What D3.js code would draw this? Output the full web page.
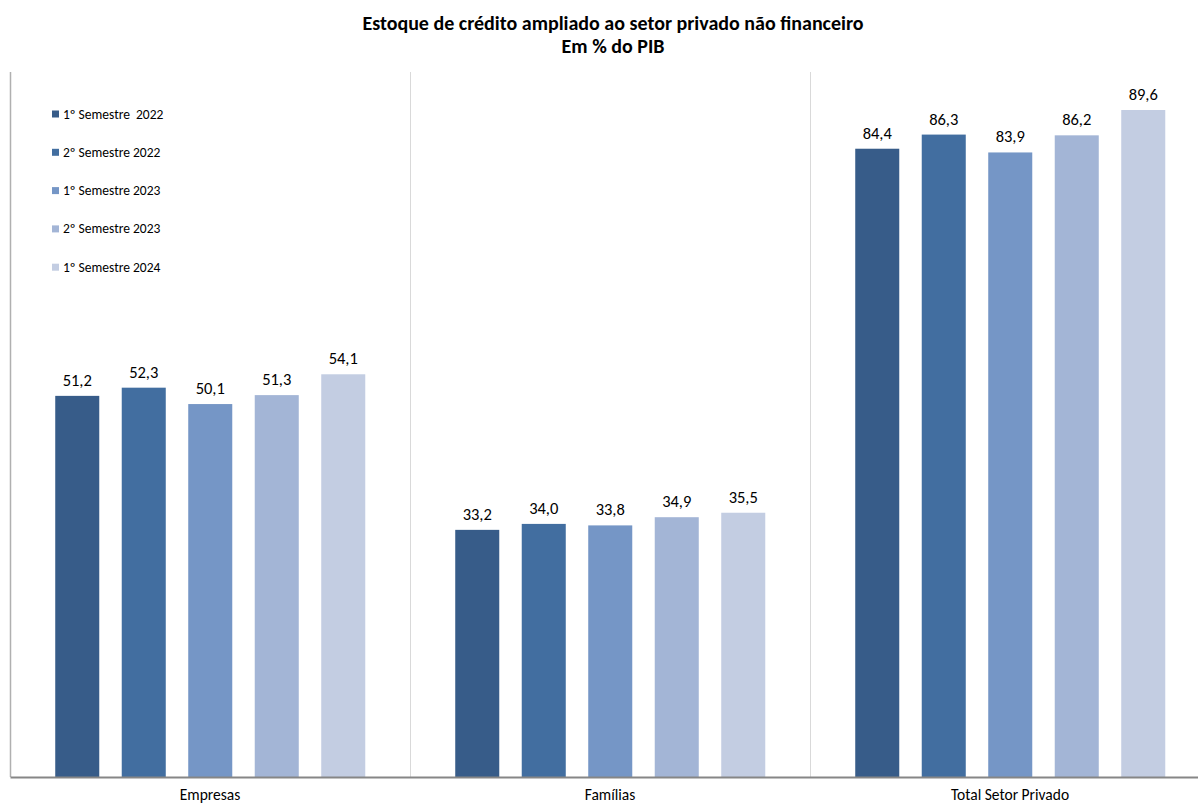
<!DOCTYPE html>
<html><head><meta charset="utf-8">
<script src="https://cdn.jsdelivr.net/npm/d3@7"></script>
<style>body{margin:0;background:#fff;} svg{display:block;font-family:Carlito, Lato, "Open Sans", sans-serif;}</style>
</head><body><svg id="c" width="1198" height="804"></svg>
<script>
const categories = ["Empresas", "Famílias", "Total Setor Privado"];
const seriesNames = ["1º Semestre  2022", "2º Semestre 2022", "1º Semestre 2023", "2º Semestre 2023", "1º Semestre 2024"];
const s1_2022 = [51.2, 33.2, 84.4];
const s2_2022 = [52.3, 34.0, 86.3];
const s1_2023 = [50.1, 33.8, 83.9];
const s2_2023 = [51.3, 34.9, 86.2];
const s1_2024 = [54.1, 35.5, 89.6];
const seriesValues = [s1_2022, s2_2022, s1_2023, s2_2023, s1_2024];
const colors = ["#375c89", "#426ea0", "#7596c6", "#a3b5d6", "#c3cde2"];

const svg = d3.select("#c");
const x0 = d3.scaleBand().domain(categories).range([10, 1210]).padding(0);
const x1 = d3.scaleBand().domain(d3.range(seriesNames.length)).range([34, 366.5]).paddingInner(0.338).paddingOuter(0.169);
const y = d3.scaleLinear().domain([0, 100]).range([777, 32.6]);

// title
svg.append("text").attr("x", 613).attr("y", 30).attr("text-anchor", "middle")
  .attr("font-weight", "bold").attr("font-size", 20).attr("fill", "#000")
  .text("Estoque de crédito ampliado ao setor privado não financeiro");
svg.append("text").attr("x", 613).attr("y", 53).attr("text-anchor", "middle")
  .attr("font-weight", "bold").attr("font-size", 20).attr("fill", "#000")
  .text("Em % do PIB");

// frame lines
svg.append("line").attr("x1", 10.5).attr("x2", 10.5).attr("y1", 72).attr("y2", 777).attr("stroke", "#b0b0b0").attr("stroke-width", 1.5);
categories.slice(1).forEach(c => {
  const xx = Math.round(x0(c)) + 0.5;
  svg.append("line").attr("x1", xx).attr("x2", xx).attr("y1", 72).attr("y2", 777).attr("stroke", "#d9d9d9").attr("stroke-width", 1);
});

// bars
const groups = svg.selectAll("g.grp").data(categories).join("g").attr("class", "grp")
  .attr("transform", d => `translate(${x0(d)},0)`);
groups.each(function(cat, ci) {
  const g = d3.select(this);
  seriesValues.forEach((vals, si) => {
    const v = vals[ci];
    g.append("rect").attr("x", x1(si)).attr("width", x1.bandwidth())
      .attr("y", y(v)).attr("height", y(0) - y(v)).attr("fill", colors[si]);
    g.append("text").attr("x", x1(si) + x1.bandwidth() / 2).attr("y", y(v) - 10)
      .attr("text-anchor", "middle").attr("font-size", 16.5).attr("fill", "#000")
      .text(d3.format(".1f")(v).replace(".", ","));
  });
});

// baseline axis
const xAxis = d3.axisBottom(x0).tickSize(0).tickPadding(12);
const ax = svg.append("g").attr("transform", "translate(0,777)").call(xAxis);
ax.select(".domain").attr("stroke", "#868686").attr("stroke-width", 2);
ax.selectAll("text").attr("font-size", 15.5).attr("fill", "#000").attr("font-family", "Carlito, Lato, 'Open Sans', sans-serif");

// legend
const leg = svg.append("g");
seriesNames.forEach((n, i) => {
  const yy = 114 + i * 38.3;
  leg.append("rect").attr("x", 52).attr("y", yy - 3.5).attr("width", 7).attr("height", 7).attr("fill", colors[i]);
  leg.append("text").attr("x", 63).attr("y", yy + 4.5).attr("font-size", 13.5).attr("fill", "#000")
    .attr("xml:space", "preserve").style("white-space", "pre").text(n);
});
</script></body></html>
